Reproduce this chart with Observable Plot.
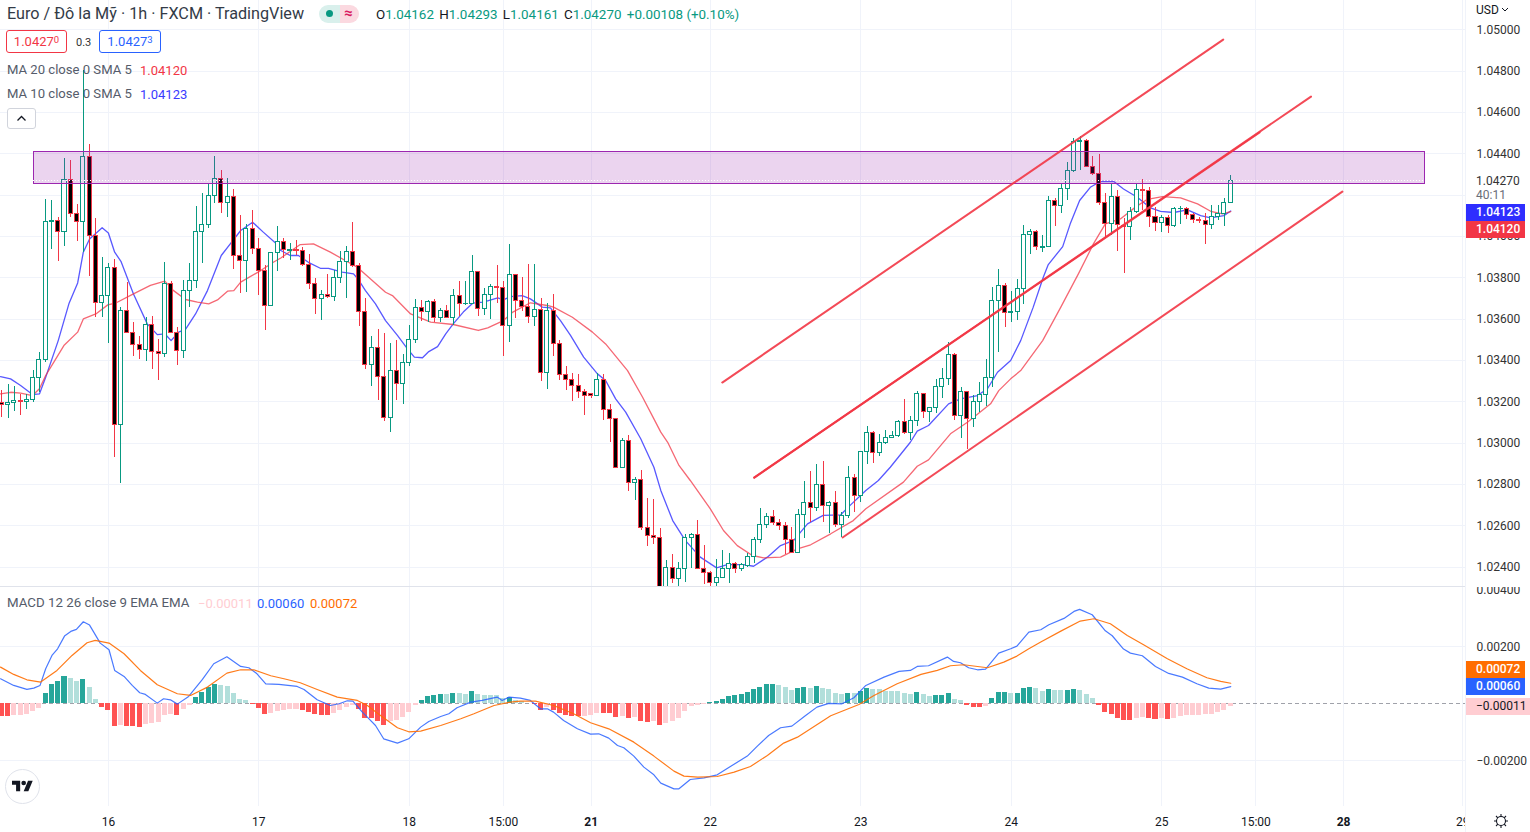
<!DOCTYPE html>
<html><head><meta charset="utf-8">
<script src="https://cdn.jsdelivr.net/npm/d3@7"></script>
<script src="https://cdn.jsdelivr.net/npm/@observablehq/plot@0.6"></script>
<style>
html,body{margin:0;padding:0;background:#fff}
#c{position:relative;width:1530px;height:832px;overflow:hidden;font-family:Roboto,sans-serif;color:#131722;background:#fff}
#c svg.p{position:absolute;left:0}
.t{position:absolute;white-space:nowrap;line-height:1}
.tag{position:absolute;left:1466px;width:59px;height:17px;line-height:17px;color:#fff;font-size:12px;font-weight:500;box-sizing:border-box;padding-left:10px}
.box{position:absolute;height:23px;line-height:22px;box-sizing:border-box;border-radius:3px;font-size:13px;text-align:center;background:#fff}
.box sup{font-size:9.5px;vertical-align:baseline;position:relative;top:-3px}
.g{color:#089981}
</style></head><body><div id="c"></div>
<script>
// Prices are stored as points above 1.00000 (3195 = 1.03195)
const openPts=[3195,3183,3193,3204,3198,3209,3316,3403,4071,4074,
4022,4274,4109,4071,4385,4003,3679,3713,3848,3088,
3640,3534,3475,3451,3572,3442,3432,3771,3534,3446,
3737,3785,4022,4056,4196,4279,4163,4192,3906,3882,
4037,3940,3834,3664,3921,3974,3932,3935,3929,3863,
3771,3698,3717,3708,3800,3877,3925,3858,3635,3379,
3461,3321,3122,3350,3287,3388,3500,3655,3635,3684,
3606,3640,3606,3713,3672,3674,3829,3650,3717,3756,
3751,3567,3814,3688,3659,3611,3645,3340,3640,3480,
3330,3306,3277,3248,3238,3229,3306,3161,3117,2880,
3011,2808,2822,2590,2551,2542,2287,2396,2343,2392,
2542,2556,2392,2372,2324,2348,2392,2416,2392,2406,
2450,2532,2604,2643,2614,2600,2532,2469,2653,2711,
2687,2798,2696,2711,2604,2648,2832,2745,2958,3050,
2953,3001,3025,3035,3103,3050,3108,3238,3151,3171,
3272,3311,3427,3132,3248,3117,3200,3234,3316,3688,
3761,3630,3635,3746,4008,4021,3946,3950,4172,4148,
4230,4317,4458,4463,4337,4303,4163,4059,4192,4053,
4046,4119,4226,4219,4093,4066,4090,4051,4132,4132,
4105,4080,4075,4056,4095,4108,4162];
const highPts=[3254,3282,3274,3235,3235,3351,3437,4179,4174,4090,
4377,4367,4154,4803,4445,4085,3896,3867,3887,3658,
3775,3584,3516,3609,3613,3500,3872,3782,3561,3787,
3867,4145,4206,4255,4387,4319,4279,4227,4101,4058,
4125,3988,3859,3924,4048,3988,3964,3980,3948,3913,
3795,3738,3816,3835,3927,3951,4067,3871,3698,3516,
3550,3530,3480,3495,3427,3569,3695,3690,3690,3693,
3650,3666,3743,3782,3782,3908,3829,3746,3766,3859,
3782,3961,3814,3801,3864,3864,3698,3674,3717,3495,
3371,3335,3332,3258,3238,3335,3332,3187,3117,3021,
3037,2832,2867,2730,2727,2585,2432,2459,2424,2556,
2561,2625,2503,2379,2435,2479,2464,2421,2416,2464,
2545,2682,2658,2674,2629,2614,2590,2679,2814,2862,
2896,2911,2717,2766,2666,2887,2848,2958,3080,3056,
3040,3061,3056,3109,3211,3129,3250,3238,3171,3306,
3359,3485,3432,3267,3248,3230,3292,3403,3751,3840,
3774,3734,3790,4053,4034,4029,4005,4193,4182,4250,
4356,4474,4484,4467,4387,4396,4206,4255,4222,4085,
4138,4258,4274,4235,4138,4101,4100,4138,4145,4138,
4109,4090,4109,4150,4150,4182,4293];
const lowPts=[3125,3121,3154,3133,3164,3198,3246,3392,3938,3880,
3951,4093,3977,3924,3808,3609,3609,3484,2932,2803,
3529,3419,3403,3396,3358,3303,3416,3529,3375,3411,
3658,3750,3871,4040,4158,4113,4093,3842,3725,3730,
3911,3716,3545,3664,3832,3895,3884,3908,3856,3743,
3622,3595,3698,3685,3774,3701,3851,3564,3358,3275,
3206,3104,3053,3206,3187,3372,3484,3588,3582,3582,
3582,3601,3567,3614,3666,3671,3613,3617,3598,3674,
3419,3488,3603,3637,3579,3564,3298,3259,3419,3303,
3254,3201,3216,3133,3217,3229,3109,3003,2880,2880,
2766,2722,2577,2500,2509,2238,2254,2319,2295,2327,
2392,2392,2316,2306,2306,2348,2319,2371,2379,2400,
2416,2512,2585,2601,2577,2459,2464,2464,2537,2617,
2671,2617,2561,2593,2542,2633,2666,2714,2898,2903,
2937,2992,3021,3025,3040,3013,3080,3119,3100,3142,
3216,3279,3109,3022,2967,3077,3148,3177,3267,3440,
3558,3585,3593,3669,3913,3932,3924,3948,4048,4113,
4174,4311,4319,4334,4295,4150,3996,4005,3929,3819,
3980,4109,4125,4045,4026,4021,4016,4045,4058,4084,
4061,4064,3961,4035,4077,4048,4161];
const closePts=[3185,3195,3204,3198,3209,3316,3403,4071,4076,4022,
4274,4109,4071,4385,4003,3679,3713,3848,3088,3640,
3534,3475,3451,3572,3442,3432,3771,3534,3446,3737,
3785,4022,4056,4196,4279,4163,4192,3906,3882,4037,
3940,3834,3664,3921,3974,3935,3935,3930,3863,3771,
3698,3717,3708,3800,3877,3925,3858,3635,3379,3461,
3321,3122,3350,3287,3388,3500,3655,3635,3684,3606,
3640,3606,3713,3674,3675,3829,3650,3717,3756,3750,
3567,3814,3688,3659,3611,3645,3340,3640,3480,3330,
3306,3277,3248,3229,3229,3306,3161,3117,2880,3011,
2808,2822,2590,2551,2542,2271,2396,2343,2392,2542,
2556,2392,2372,2324,2348,2392,2416,2392,2409,2450,
2532,2604,2643,2614,2600,2532,2469,2653,2711,2687,
2798,2696,2711,2604,2648,2832,2745,2958,3050,2953,
3001,3025,3035,3103,3050,3108,3238,3151,3171,3272,
3311,3427,3132,3248,3117,3200,3234,3316,3688,3761,
3630,3634,3746,4008,4021,3950,3950,4172,4148,4230,
4317,4458,4461,4337,4303,4163,4061,4192,4054,4048,
4119,4226,4219,4095,4067,4090,4051,4134,4135,4105,
4080,4075,4056,4093,4109,4163,4270];

// MA 10 (blue): bar position, points
const ma10Bar=[-0.2,1.4,3,4.9,6,7,9,10.7,12.1,13,14,16,17,18,19,21,23.2,24.8,26,27,28.2,29.3,30.9,32.8,35,36.5,38.1,40,41.7,43.7,44.5,46,47.3,48.9,50.8,52.1,54.3,56.1,56.9,58,59.6,61.2,63.1,64.7,65.8,67.1,68.1,69.5,70.8,72,73.6,75.1,76.8,79.1,80,81.1,83,84.3,86.2,87.5,89.1,90.7,92.8,95,96.3,97.9,99.5,101.9,104,105.1,107,109,111.4,114,115.7,118.3,119.9,122.1,124.2,126.3,128.5,131,133.8,135,137.8,139.8,141.7,144.9,146,147.8,151,152.9,155.6,157.2,158.8,160.9,162.5,164.5,166.1,166.9,169.2,170.4,171.9,173.6,175.2,177.3,178.9,181.1,183.2,184.8,186.9,189.1,191.2,192.8,194.9,196];
const ma10Pts=[3322,3311,3279,3235,3238,3319,3496,3674,3775,3924,3988,4042,4017,3924,3880,3722,3577,3525,3529,3496,3537,3550,3625,3738,3908,3967,4029,4069,4021,3967,3932,3908,3908,3875,3846,3846,3827,3819,3790,3738,3674,3593,3521,3456,3416,3413,3443,3467,3529,3577,3634,3677,3682,3703,3693,3709,3714,3698,3658,3654,3593,3521,3416,3335,3303,3214,3150,3021,2883,2771,2625,2529,2448,2396,2412,2412,2404,2448,2504,2529,2609,2650,2653,2690,2771,2819,2883,3004,3058,3085,3190,3214,3230,3263,3343,3400,3496,3658,3803,3864,3951,4061,4174,4238,4266,4267,4230,4190,4138,4121,4116,4129,4101,4090,4101,4123];
// MA 20 (red)
const ma20Bar=[-0.2,1.4,3,4.9,6,7,8.3,9.9,12.1,13,15,16.9,18.1,21,23.7,26,27.4,29.3,31.2,33,34.4,36,37,38.1,41.3,43.3,44.5,47.6,49.7,52.4,56.7,61.2,62.3,65.2,68.4,72,76,77.5,80,81.5,84.3,87,88,91,94.2,96.3,99.8,102.2,104,105.1,106.2,108,109.8,113,115.1,117.3,119.7,121.5,124.2,126.9,129,132.2,135.8,137.8,143.8,146,147.8,151.3,154,157.7,159,160.9,162.5,166,168.9,171.7,174.1,176,178.4,180.8,182.7,185.1,188,190.7,192.8,194.7,196];
const ma20Pts=[3238,3246,3242,3230,3263,3327,3392,3472,3537,3601,3625,3669,3677,3722,3763,3784,3738,3695,3682,3674,3693,3735,3738,3779,3835,3875,3896,3961,3964,3924,3851,3730,3714,3625,3585,3574,3545,3558,3593,3634,3679,3666,3658,3609,3537,3480,3351,3222,3117,3053,3004,2892,2819,2682,2577,2504,2456,2445,2448,2488,2508,2561,2625,2682,2811,2888,2919,3045,3101,3190,3254,3311,3351,3496,3658,3819,3964,4061,4085,4142,4180,4193,4187,4158,4122,4109,4120];

// Trend lines: bar0, pts0, bar1, pts1
const trendLines=[[114.9,3293,194.8,4953],[120,2833,208.8,4677],[120,2833,200.6,4503],[134.1,2543,213.8,4217]];
// Zone rectangle
const zone={bar1:5.14,bar2:227,top:4411,bottom:4254};
const lastClose=4270;

// MACD pane, units of 0.00001
const histVals=[-44.5,-45,-41,-40.4,-37.4,-28.1,-16.4,37.4,67.9,79.6,97.1,90.1,79.6,86.6,58.5,16.4,-11.7,-23.4,-78.4,-74.9,-79.6,-80.7,-81.9,-72.5,-70.2,-66.7,-41,-37.4,-41,-19.9,-5.9,23.4,41,58.5,67.9,65.5,62,37.4,16.4,11.7,-2.3,-16.4,-36.3,-32.8,-25.7,-23.4,-19.9,-18.7,-23.4,-30.4,-36.3,-39.8,-41,-32.8,-23.4,-11.7,-5.9,-19.9,-50.3,-51.5,-60.8,-74.9,-60.8,-59.7,-46.8,-29.3,-4.7,11.7,25.7,29.3,32.8,31.6,36.3,35.1,32.8,43.3,32.8,29.3,28.7,28.1,17.6,23.4,11.7,9.4,0.5,-3.5,-22.2,-14,-22.2,-32.8,-39.8,-43.3,-44.5,-43.3,-39.8,-32.8,-33.9,-35.1,-46.8,-44.5,-51.5,-49.1,-60.8,-64.4,-63.2,-74.9,-67.9,-60.8,-50.3,-25.7,-8.2,-4.7,-1.2,3.5,8.2,15.2,26.9,30.4,33.9,41,51.5,58.5,67.9,69,64.4,58.5,48,52.7,58.5,55,60.8,53.8,50.3,36.3,32.8,36.3,35.1,42.1,53.8,50.3,49.1,44.5,43.3,42.1,35.1,32.8,39.8,32.8,25.7,29.3,30.4,35.1,16.4,11.7,-4.7,-11.7,-12.9,-8.2,18.7,39.8,41,36.3,37.4,52.7,57.3,53.8,43.3,50.3,46.8,46.2,46.8,50.3,46.8,32.8,18.7,-4.7,-29.3,-37.4,-51.5,-57.3,-58.5,-51.5,-48,-51.5,-53.8,-53.2,-55,-51.5,-44.5,-41,-40.4,-39.8,-39.2,-37.4,-30.4,-23.4,-11];
const macdBar=[-0.2,1.9,4,5.1,6.1,7,8,8.9,10,11,11.9,13,14,15.7,17.1,18,19.5,20.8,22,22.9,24.8,25.8,26.9,28,29.8,32,33.8,35.9,38.1,39.4,40.7,42.1,44.2,47.1,48.2,50.3,52.4,53.8,55.1,56,57.5,58.3,59.6,60.9,63.1,64.9,66.8,68.1,70,71.3,72.6,74.8,76.6,79,79.8,80.9,82.7,84.3,85.9,87,88,89.6,91.8,93.9,95.2,96.8,98.2,99.2,100.8,102.4,104,105.1,107.2,108,109.8,112,114.1,116.2,118.9,120.5,122.3,124.2,126,128.2,130,131.9,134,135.9,137.8,140.7,143.1,144.9,146,147.8,150.8,151.8,152.9,154.2,155.6,156.9,159,160.9,161.9,163.8,165.7,167,169.4,171,171.9,173.9,176,177.1,178.9,180,181.9,184,186.1,188.3,190.6,192.5,194.4,196];
const macdVals=[87.8,64.4,50.3,55,64.4,122.9,169.7,193,237.5,253.9,260.9,287.8,276.1,212.9,189.5,117,95.9,64.4,38.6,32.8,2.3,17.6,14,-1.2,25.7,85.4,140.4,165,131,126.4,105.3,70.2,67.9,60.8,50.3,14,-5.9,0,10.5,9.4,-29.3,-46.8,-76.1,-122.9,-138.1,-122.9,-81.9,-62,-44.5,-35.1,-14,5.9,11.7,23.4,11.7,23.4,19.9,11.7,-17.6,-17.6,-29.3,-58.5,-87.8,-106.5,-105.3,-120.5,-146.3,-154.4,-183.6,-222.3,-249.2,-278.5,-298.4,-298.4,-265.6,-259.7,-249.2,-220,-183.6,-148.6,-111.2,-84.2,-78.4,-41,-11.7,1.2,0,21.1,64.4,93.6,113.5,117,131,133.4,163.8,148.6,143.9,126.4,119.3,121.7,177.8,193,202.4,251.6,259.7,277.2,299.5,324.1,331.1,312.4,256.2,238.7,191.9,177.8,168.5,131,106.5,93.6,70.2,55,51.5,60];
const signalBar=[-0.2,1.9,4,6.2,8.8,11.2,13.6,14.9,17.1,19.5,22.1,24.8,28,30.1,32.8,35.9,38.1,40.2,42.9,45,47.6,50.3,53.5,56.7,58.3,60.4,63.1,64.9,66.8,70,73.2,75.3,78.5,81.1,82.7,85.1,88,91.2,93.9,96.8,100.8,104,107.2,108.8,111,114.1,116.8,119.4,122.1,124.7,126.9,130.6,132.2,136.7,139.1,142.8,146.6,149.2,151.3,153.4,157.2,159.8,161.9,163.8,165.7,168.9,172,174.2,176.8,179.5,182.1,185.9,189,192.2,194.4,196];
const signalVals=[128.7,103,84.2,76.1,117,169.7,214.1,222.3,212.9,175.5,117,66.7,35.1,29.3,58.5,107.6,119.3,119.3,98.3,87.8,73.7,50.3,23.4,11.7,-5.9,-41,-84.2,-98.3,-95.9,-76.1,-52.7,-35.1,-5.9,5.9,9.4,9.4,-5.9,-35.1,-66.7,-87.8,-134.6,-183.6,-236.3,-253.9,-257.4,-255.1,-239.9,-220,-181.2,-137.9,-117,-64.4,-42.1,-2.3,29.3,70.2,103,117,133.4,136.9,126.4,146.3,167.3,193,216.5,255,290.3,298.4,280.8,239.9,207.1,158,122.9,91.3,78.4,72];

// Axes
const timeBars=[17,41,65,80,94,113,137,161,185,200,214,233];
const timeLabels=["16","17","18","15:00","21","22","23","24","25","15:00","28","29"];
const boldBars=[94,214];
const priceGrid=[5000,4800,4600,4400,4200,4000,3800,3600,3400,3200,3000,2800,2600,2400];
const priceLabels=[5000,4800,4600,4400,4000,3800,3600,3400,3200,3000,2800,2600,2400];
const macdTicks=[400,200,-200];

const GREEN="#089981",RED="#f23645",GRID="#f0f3fa";
const xDomain=[-0.207,233.44];
const P=n=>1+n/1e5;
const bars=openPts.map((o,i)=>({i,o:P(o),h:P(highPts[i]),l:P(lowPts[i]),c:P(closePts[i]),up:closePts[i]>=o}));
const series=(xs,ys,f)=>xs.map((x,i)=>({x,y:f(ys[i])}));
const fmtTime=d=>timeLabels[timeBars.indexOf(d)];
const root=document.getElementById("c");
const BW=0.32;

const pricePlot=Plot.plot({
  width:1530,height:586,marginLeft:0,marginRight:65,marginTop:0,marginBottom:0,
  style:{fontFamily:"Roboto,sans-serif",fontSize:"12px",background:"transparent",color:"#131722"},
  x:{domain:xDomain,axis:null},
  y:{domain:[P(2306),P(5142)],axis:null},
  marks:[
    Plot.ruleX(timeBars,{stroke:GRID,strokeWidth:1,shapeRendering:"crispEdges"}),
    Plot.ruleY(priceGrid.map(P),{stroke:GRID,strokeWidth:1,shapeRendering:"crispEdges"}),
    Plot.line(series(ma10Bar,ma10Pts,P),{x:"x",y:"y",stroke:"#2e2eff",strokeOpacity:.8,strokeWidth:1.3,clip:true}),
    Plot.line(series(ma20Bar,ma20Pts,P),{x:"x",y:"y",stroke:RED,strokeOpacity:.75,strokeWidth:1.3,clip:true}),
    Plot.ruleX(bars,{x:"i",y1:"l",y2:"h",stroke:d=>d.up?GREEN:RED,strokeWidth:1,clip:true,shapeRendering:"crispEdges"}),
    Plot.rect(bars,{x1:d=>d.i-BW,x2:d=>d.i+BW,y1:"o",y2:"c",fill:d=>d.up?"#fff":"#000",stroke:d=>d.up?GREEN:RED,strokeWidth:1,clip:true,shapeRendering:"crispEdges"}),
    Plot.rect([zone],{x1:"bar1",x2:"bar2",y1:d=>P(d.bottom),y2:d=>P(d.top),fill:"#9c27b0",fillOpacity:.2,stroke:"#9c27b0",strokeWidth:1,shapeRendering:"crispEdges"}),
    Plot.ruleY([P(lastClose)],{stroke:"#fff",strokeDasharray:"1 2",strokeWidth:1,shapeRendering:"crispEdges"}),
    ...trendLines.map(t=>Plot.line([{x:t[0],y:P(t[1])},{x:t[2],y:P(t[3])}],{x:"x",y:"y",stroke:RED,strokeWidth:2,strokeOpacity:.9,clip:true})),
    Plot.axisY({anchor:"right",ticks:priceLabels.map(P),tickSize:0,tickPadding:11,tickFormat:d3.format(".5f"),label:null,fill:"#333"})
  ]
});
pricePlot.classList.add("p");pricePlot.style.top="0";root.append(pricePlot);

const macdPlot=Plot.plot({
  width:1530,height:245,marginLeft:0,marginRight:65,marginTop:0,marginBottom:26,
  style:{fontFamily:"Roboto,sans-serif",fontSize:"12px",background:"transparent",color:"#131722"},
  x:{domain:xDomain,axis:null},
  y:{domain:[-360.4,408],axis:null},
  marks:[
    Plot.ruleX(timeBars,{stroke:GRID,strokeWidth:1,shapeRendering:"crispEdges"}),
    Plot.ruleY([200,-200],{stroke:GRID,strokeWidth:1,shapeRendering:"crispEdges"}),
    Plot.ruleY([0],{stroke:"#787b86",strokeOpacity:.7,strokeDasharray:"4 3",strokeWidth:1,shapeRendering:"crispEdges"}),
    Plot.rect(histVals.map((v,i)=>({i,v,prev:i?histVals[i-1]:v-(v>0?-1:1)})),{
      x1:d=>d.i-.4,x2:d=>d.i+.4,y1:()=>0,y2:"v",
      fill:d=>d.v>=0?(d.v>d.prev?"#26a69a":"#b2dfdb"):(d.v<d.prev||d.i===0?"#ff5252":"#ffcdd2"),
      shapeRendering:"crispEdges",clip:true}),
    Plot.line(series(macdBar,macdVals,v=>v),{x:"x",y:"y",stroke:"#2962ff",strokeOpacity:.85,strokeWidth:1.2,clip:true}),
    Plot.line(series(signalBar,signalVals,v=>v),{x:"x",y:"y",stroke:"#ff6d00",strokeOpacity:.9,strokeWidth:1.2,clip:true}),
    Plot.axisY({anchor:"right",ticks:macdTicks,tickSize:0,tickPadding:11,tickFormat:d=>d3.format(".5f")(d/1e5).replace("-","\u2212"),label:null,fill:"#333"}),
    Plot.axisX({anchor:"bottom",ticks:timeBars.filter(b=>!boldBars.includes(b)),tickSize:0,tickPadding:11,tickFormat:fmtTime,label:null,fill:"#131722"}),
    Plot.axisX({anchor:"bottom",ticks:boldBars,tickSize:0,tickPadding:11,tickFormat:fmtTime,label:null,fill:"#131722",fontWeight:"bold"})
  ]
});
macdPlot.classList.add("p");macdPlot.style.top="587px";root.append(macdPlot);

// Text overlays
function t(txt,x,y,size,color,extra){
  const e=document.createElement("div");e.className="t";e.innerHTML=txt;
  e.style.cssText=`left:${x}px;top:${y}px;font-size:${size}px;color:${color};transform:translateY(-50%);${extra||""}`;
  root.append(e);return e;
}
function block(x,y,w,h,css,html){
  const e=document.createElement("div");
  e.style.cssText=`position:absolute;left:${x}px;top:${y}px;width:${w}px;height:${h}px;${css}`;
  if(html)e.innerHTML=html;root.append(e);return e;
}
// pane rules
block(0,586,1466,1,"background:#e0e3eb");
block(1465,0,1,832,"background:#f0f3fa");
block(1466,806,64,26,"background:#fff");

t("Euro / Đô la Mỹ · 1h · FXCM · TradingView",7,14,16.2,"#333b47");
// status pill
block(319,5,21,18,"background:#d9f0ec;border-radius:9px 0 0 9px");
block(340,5,19,18,"background:#fbd9e0;border-radius:0 9px 9px 0");
block(326,10,7,7,"background:#089981;border-radius:50%");
t("≈",344,13,15,"#d81b60","font-weight:700");
// OHLC
t('<span>O</span><span class="g">1.04162</span> <span style="margin-left:2px">H</span><span class="g">1.04293</span> <span style="margin-left:2px">L</span><span class="g">1.04161</span> <span style="margin-left:2px">C</span><span class="g">1.04270</span> <span class="g" style="margin-left:2px">+0.00108 (+0.10%)</span>',376,15,13.4,"#131722");
// buy / sell boxes
const b1=block(6,30,61,23,"");b1.className="box";b1.style.border="1px solid #f23645";b1.style.color="#f23645";b1.innerHTML="1.0427<sup>0</sup>";
t("0.3",76,42,11,"#333");
const b2=block(99,30,62,23,"");b2.className="box";b2.style.border="1px solid #2962ff";b2.style.color="#2962ff";b2.innerHTML="1.0427<sup>3</sup>";
// MA legends
t("MA 20 close 0 SMA 5",7,70,13.1,"#555c6a");
t("1.04120",140,70,13,"#f23645");
t("MA 10 close 0 SMA 5",7,94,13.1,"#555c6a");
t("1.04123",140,94,13,"#3b3bff");
block(7,108,27,19,"border:1px solid #d1d4dc;border-radius:3px;background:#fff",
 '<svg width="27" height="19"><path d="M9.5 11.5 L13.5 7.5 L17.5 11.5" fill="none" stroke="#131722" stroke-width="1.3"/></svg>');
// price axis overlays
t('USD<svg width="8" height="6" style="margin-left:2px;vertical-align:1px"><path d="M1 1 L4 4 L7 1" fill="none" stroke="#131722"/></svg>',1476,10,12,"#131722");
t("1.04270",1476,181,12,"#333");
t("40:11",1476,195,12,"#6a6d78");
const tag=(txt,y,bg,col,extra)=>{const e=document.createElement("div");e.className="tag";e.textContent=txt;e.style.top=y+"px";e.style.background=bg;e.style.color=col||"#fff";if(extra)e.style.cssText+=extra;root.append(e)};
tag("1.04123",203.5,"#2e2eff");
tag("1.04120",220.5,"#f23645");
tag("0.00072",661,"#ff6d00");
tag("0.00060",678,"#2962ff");
tag("−0.00011",698,"#ffcdd2","#131722","width:64px;font-weight:400");
// MACD legend
t("MACD 12 26 close 9 EMA EMA",7,603,13.3,"#555c6a");
t("−0.00011",198,603,13,"#ffcdd2");
t("0.00060",257,603,13,"#2962ff");
t("0.00072",310,603,13,"#ff6d00");
// logo
block(5,769,33,33,"background:#fff;border:1px solid #e0e3eb;border-radius:50%;box-sizing:content-box",
 '<svg width="21" height="17" viewBox="0 0 36 28" style="position:absolute;left:6px;top:8px"><path fill="#131722" d="M14 22H7V11H0V4h14v18zM28 22h-8l7.5-18h8L28 22z"/><circle fill="#131722" cx="20" cy="8" r="4"/></svg>');
// settings gear
block(1493,813,16,16,"",
 '<svg width="16" height="16" viewBox="0 0 16 16"><circle cx="8" cy="8" r="4.5" fill="none" stroke="#131722" stroke-width="1.1"/><path d="M8 1v2.5M8 12.5V15M1 8h2.5M12.5 8H15M3 3l1.8 1.8M11.2 11.2L13 13M13 3l-1.8 1.8M4.8 11.2L3 13" stroke="#131722" stroke-width="1.1"/></svg>');
</script></body></html>
